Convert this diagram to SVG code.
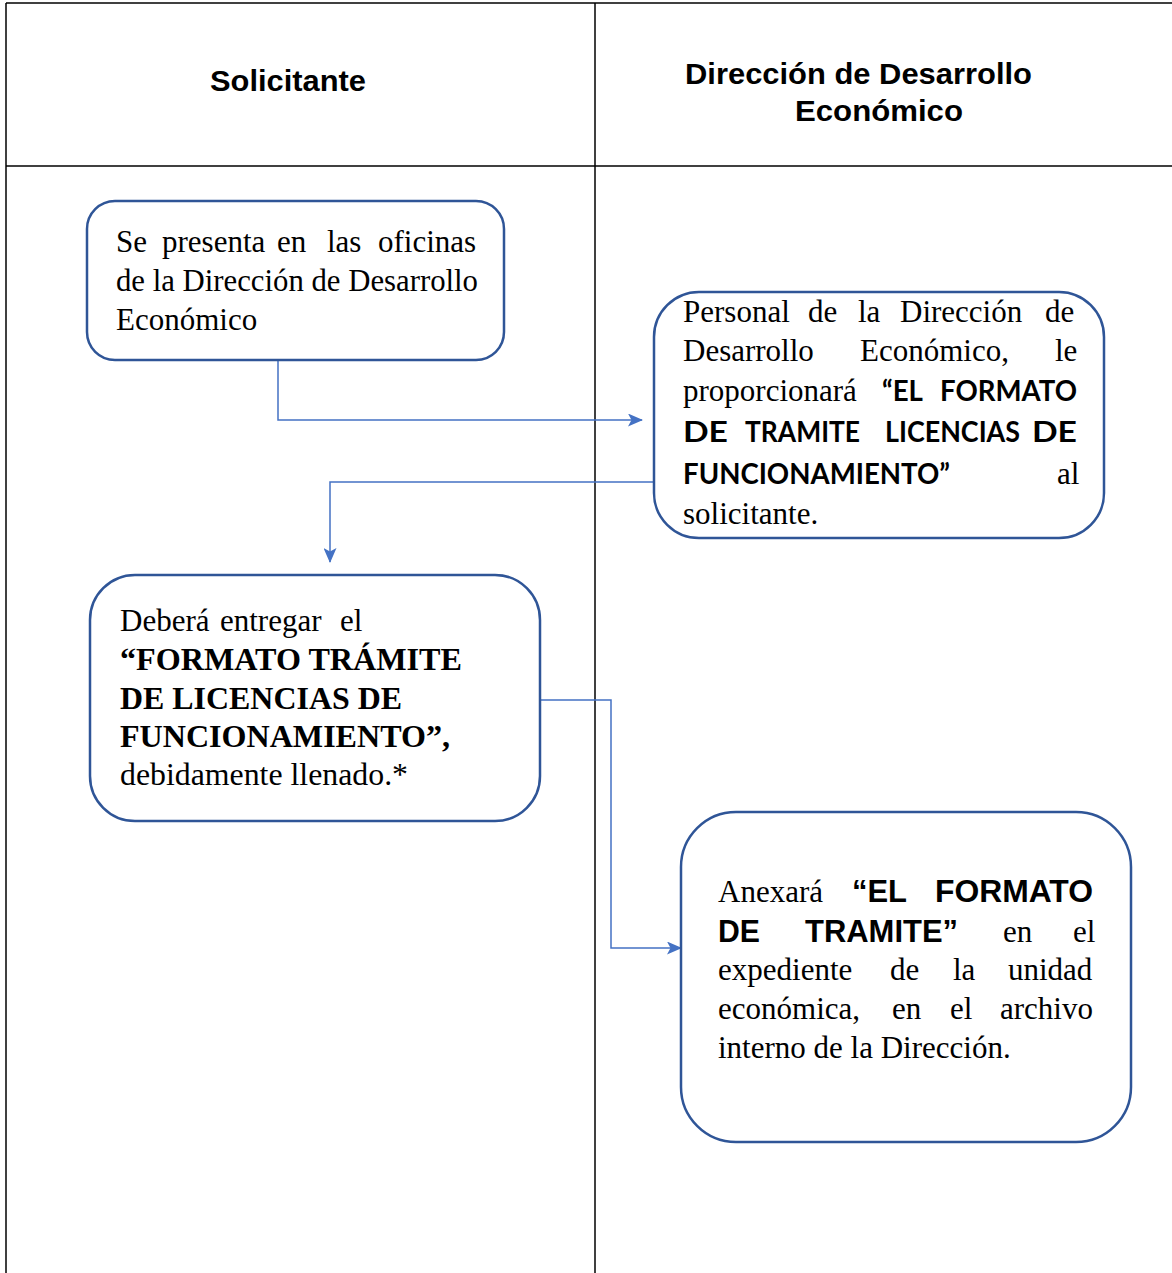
<svg xmlns="http://www.w3.org/2000/svg" width="1172" height="1273" viewBox="0 0 1172 1273">
<defs>
<style>
.grid{stroke:#000;stroke-width:1.5;fill:none}
.box{fill:#fff;stroke:#2F5597;stroke-width:2.5}
.conn{fill:none;stroke:#4472C4;stroke-width:1.5}
.hdr{font-family:"Liberation Sans",Arial,sans-serif;font-weight:bold;font-size:29px;fill:#000}
.ser{font-family:"Liberation Serif","Times New Roman",serif;font-size:31px;fill:#000}
.serb{font-family:"Liberation Serif","Times New Roman",serif;font-size:31px;font-weight:bold;fill:#000}
.sanb{font-family:Lato,"Open Sans","Liberation Sans",sans-serif;font-weight:bold;font-size:28px;fill:#000}
.arb{font-family:"Liberation Sans",Arial,sans-serif;font-weight:bold;font-size:31px;fill:#000}
</style>
<marker id="arr" viewBox="0 0 15 13" refX="14" refY="6.5" markerWidth="15" markerHeight="13" markerUnits="userSpaceOnUse" orient="auto">
<path d="M0,0 L15,6.5 L0,13 L3.5,6.5 Z" fill="#4472C4"/>
</marker>
</defs>
<rect width="1172" height="1273" fill="#fff"/>
<g id="table">
<line class="grid" x1="6" y1="3" x2="1172" y2="3"/>
<line class="grid" x1="6" y1="3" x2="6" y2="1273"/>
<line class="grid" x1="595" y1="3" x2="595" y2="1273"/>
<line class="grid" x1="6" y1="166" x2="1172" y2="166"/>
<text class="hdr" x="210" y="91" textLength="156" lengthAdjust="spacingAndGlyphs">Solicitante</text>
<text class="hdr" x="685" y="84" textLength="347" lengthAdjust="spacingAndGlyphs">Dirección de Desarrollo</text>
<text class="hdr" x="795" y="121" textLength="168" lengthAdjust="spacingAndGlyphs">Económico</text>
</g>
<g id="connectors">
<path class="conn" d="M278,358 V420 H642" marker-end="url(#arr)"/>
<path class="conn" d="M654,482 H330 V562" marker-end="url(#arr)"/>
<path class="conn" d="M540,700 H611 V948 H681" marker-end="url(#arr)"/>
</g>
<g id="node1">
<rect class="box" x="87" y="201" width="417" height="159" rx="28"/>
<text class="ser" y="252"><tspan x="116">Se</tspan><tspan x="162">presenta</tspan><tspan x="277">en</tspan><tspan x="327">las</tspan><tspan x="378">oficinas</tspan></text>
<text class="ser" x="116" y="291" textLength="362" lengthAdjust="spacingAndGlyphs">de la Dirección de Desarrollo</text>
<text class="ser" x="116" y="330">Económico</text>
</g>
<g id="node2">
<rect class="box" x="654" y="292" width="450" height="246" rx="45"/>
<text class="ser" y="322"><tspan x="683">Personal</tspan><tspan x="808">de</tspan><tspan x="858">la</tspan><tspan x="900">Dirección</tspan><tspan x="1045">de</tspan></text>
<text class="ser" y="361"><tspan x="683">Desarrollo</tspan><tspan x="860">Económico,</tspan><tspan x="1055">le</tspan></text>
<text class="ser" x="683" y="401">proporcionará</text>
<text class="sanb" x="882" y="401" textLength="41" lengthAdjust="spacingAndGlyphs">“EL</text>
<text class="sanb" x="940" y="401" textLength="137" lengthAdjust="spacingAndGlyphs">FORMATO</text>
<text class="sanb" y="442"><tspan x="683" textLength="45" lengthAdjust="spacingAndGlyphs">DE</tspan><tspan x="745" textLength="115" lengthAdjust="spacingAndGlyphs">TRAMITE</tspan><tspan x="885" textLength="135" lengthAdjust="spacingAndGlyphs">LICENCIAS</tspan><tspan x="1032" textLength="45" lengthAdjust="spacingAndGlyphs">DE</tspan></text>
<text class="sanb" x="683" y="484" textLength="267" lengthAdjust="spacingAndGlyphs">FUNCIONAMIENTO”</text>
<text class="ser" x="1057" y="484">al</text>
<text class="ser" x="683" y="524">solicitante.</text>
</g>
<g id="node3">
<rect class="box" x="90" y="575" width="450" height="246" rx="45"/>
<text class="ser" y="631"><tspan x="120">Deberá</tspan><tspan x="220">entregar</tspan><tspan x="340">el</tspan></text>
<text class="serb" x="120" y="670" textLength="342" lengthAdjust="spacingAndGlyphs">“FORMATO TRÁMITE</text>
<text class="serb" x="120" y="709" textLength="282" lengthAdjust="spacingAndGlyphs">DE LICENCIAS DE</text>
<text class="serb" x="120" y="747" textLength="330" lengthAdjust="spacingAndGlyphs">FUNCIONAMIENTO”,</text>
<text class="ser" x="120" y="785" textLength="288" lengthAdjust="spacingAndGlyphs">debidamente llenado.*</text>
</g>
<g id="node4">
<rect class="box" x="681" y="812" width="450" height="330" rx="55"/>
<text class="ser" x="718" y="902">Anexará</text>
<text class="arb" y="902"><tspan x="852" textLength="55" lengthAdjust="spacingAndGlyphs">“EL</tspan><tspan x="935" textLength="158" lengthAdjust="spacingAndGlyphs">FORMATO</tspan></text>
<text class="arb" y="942"><tspan x="718" textLength="42" lengthAdjust="spacingAndGlyphs">DE</tspan><tspan x="805" textLength="153" lengthAdjust="spacingAndGlyphs">TRAMITE”</tspan></text>
<text class="ser" y="942"><tspan x="1003">en</tspan><tspan x="1073">el</tspan></text>
<text class="ser" y="980"><tspan x="718">expediente</tspan><tspan x="890">de</tspan><tspan x="953">la</tspan><tspan x="1008">unidad</tspan></text>
<text class="ser" y="1019"><tspan x="718">económica,</tspan><tspan x="892">en</tspan><tspan x="950">el</tspan><tspan x="1000">archivo</tspan></text>
<text class="ser" x="718" y="1058">interno de la Dirección.</text>
</g>
</svg>
